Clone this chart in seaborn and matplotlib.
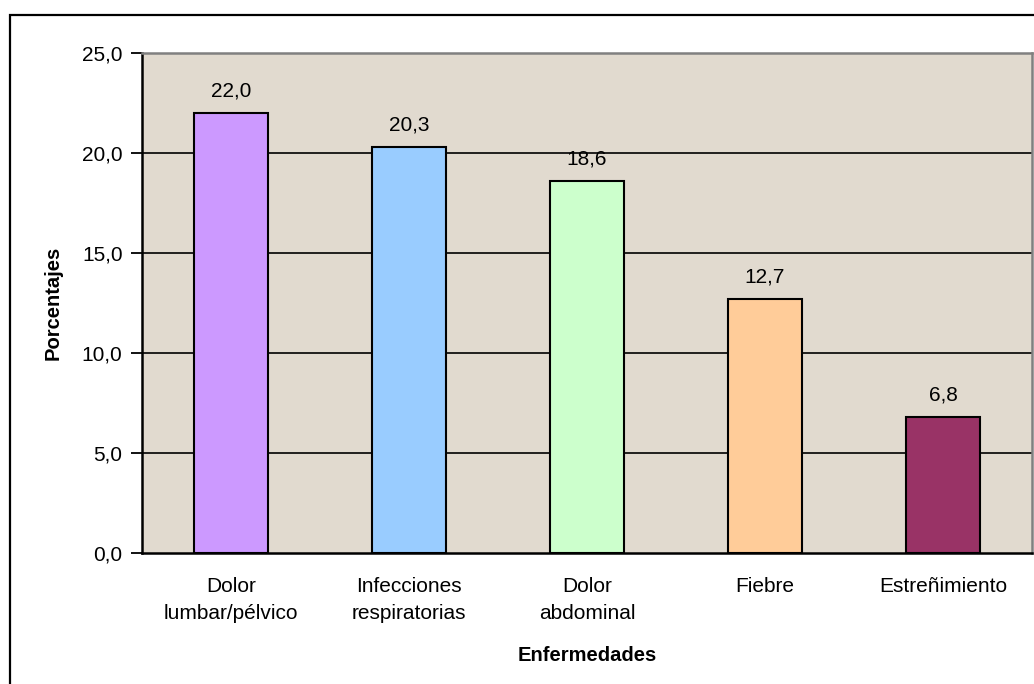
import matplotlib
matplotlib.use("Agg")
import matplotlib.pyplot as plt
import matplotlib.patches as mpatches
from matplotlib.ticker import FuncFormatter, FixedLocator
import seaborn as sns
import pandas as pd

categorias = ["Dolor\nlumbar/pélvico", "Infecciones\nrespiratorias", "Dolor\nabdominal",
              "Fiebre", "Estreñimiento"]
porcentajes = [22.0, 20.3, 18.6, 12.7, 6.8]
colores = ["#CC99FF", "#99CCFF", "#CCFFCC", "#FFCC99", "#993366"]
y_ticks = [0, 5, 10, 15, 20, 25]

sns.set_theme(style="white")
plt.rcParams["font.family"] = ["Liberation Sans", "DejaVu Sans"]
plt.rcParams["text.color"] = "black"
plt.rcParams["axes.labelcolor"] = "black"
plt.rcParams["xtick.color"] = "black"
plt.rcParams["ytick.color"] = "black"

df = pd.DataFrame({"Enfermedad": categorias, "Porcentaje": porcentajes})

fig = plt.figure(figsize=(10.34, 6.84), dpi=100)
ax = fig.add_axes([142 / 1034, 1 - 553 / 684, 890 / 1034, 500 / 684])
ax.set_facecolor("#E1DACF")

sns.barplot(data=df, x="Enfermedad", y="Porcentaje", hue="Enfermedad",
            palette=colores, saturation=1, legend=False, width=0.416,
            edgecolor="black", linewidth=1.5, ax=ax, zorder=3)

ax.set_ylim(0, 25)
ax.set_xlim(-0.5, len(categorias) - 0.5)
ax.yaxis.set_major_locator(FixedLocator(y_ticks))
ax.yaxis.set_major_formatter(FuncFormatter(lambda v, p: f"{v:.1f}".replace(".", ",")))
for yv in y_ticks[1:-1]:
    ax.axhline(yv, color="black", linewidth=1.2, zorder=1)

# category labels centred on bars, tick marks between categories
ax.set_xticks(range(len(categorias)))
ax.set_xticklabels(categorias, fontsize=15, linespacing=1.55)
ax.tick_params(axis="x", length=0, pad=17)
ax.set_xticks([i - 0.5 for i in range(len(categorias) + 1)], minor=True)
ax.tick_params(axis="x", which="minor", length=8, width=1.3, color="black", direction="out")
ax.tick_params(axis="y", length=8, width=1.3, color="black", direction="out",
               labelsize=15, pad=6, left=True)

for sp in ["left", "bottom"]:
    ax.spines[sp].set_color("black")
    ax.spines[sp].set_linewidth(1.8)
for sp in ["top", "right"]:
    ax.spines[sp].set_color("#808080")
    ax.spines[sp].set_linewidth(1.8)

for i, v in enumerate(porcentajes):
    ax.annotate(f"{v:.1f}".replace(".", ","), (i, v), xytext=(0, 9),
                textcoords="offset points", ha="center", va="bottom", fontsize=15)

ax.set_xlabel("Enfermedades", fontsize=14.5, fontweight="bold", labelpad=17)
ax.set_ylabel("Porcentajes", fontsize=14.5, fontweight="bold", labelpad=14)

# chart-area frame
fig.patches.append(mpatches.Rectangle((10 / 1034, -0.02), 1.05, 0.02 + 1 - 15 / 684,
                                      transform=fig.transFigure, fill=False,
                                      edgecolor="black", linewidth=1.6, zorder=0))

fig.savefig("out.png", dpi=100, facecolor="white")
